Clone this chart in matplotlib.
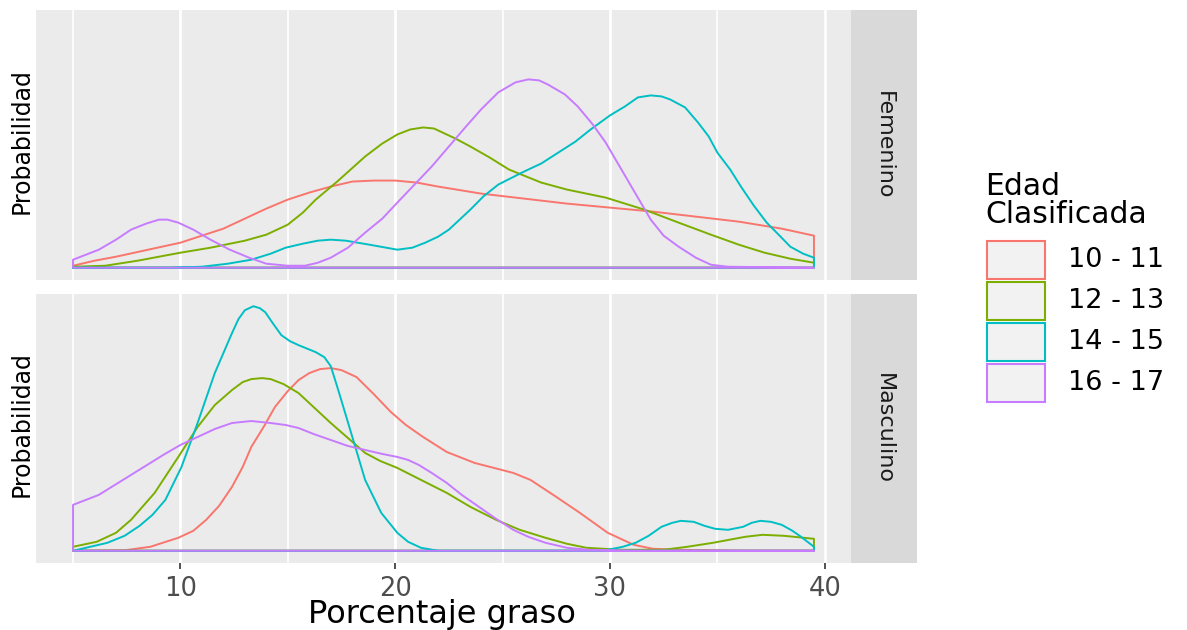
import numpy as np
import matplotlib
matplotlib.use('Agg')
import matplotlib.pyplot as plt
from matplotlib.patches import Polygon, Rectangle

# densidades (x = porcentaje graso, y = densidad)
grupos = ['10 - 11', '12 - 13', '14 - 15', '16 - 17']
colores = ['#F8766D', '#7CAE00', '#00BFC4', '#C77CFF']
paneles = ['Femenino', 'Masculino']

# Femenino
fem_x_1011 = [5.0, 6.0, 7.0, 8.5, 10.0, 11.0, 12.0, 13.0, 14.0, 15.0, 16.0, 17.0, 18.0, 19.0, 20.0, 21.0, 22.0, 24.0, 26.0, 28.0, 30.0, 32.0, 34.0, 36.0, 38.0, 39.5]
fem_y_1011 = [0.002, 0.007, 0.011, 0.018, 0.025, 0.032, 0.039, 0.049, 0.059, 0.068, 0.075, 0.081, 0.086, 0.087, 0.087, 0.085, 0.081, 0.074, 0.069, 0.064, 0.060, 0.056, 0.051, 0.046, 0.039, 0.032]

fem_x_1213 = [5.0, 6.5, 8.0, 10.0, 11.4, 13.0, 14.0, 15.0, 15.7, 16.3, 17.3, 18.6, 19.4, 20.1, 20.7, 21.3, 21.8, 22.1, 22.8, 23.5, 24.4, 25.3, 26.8, 28.0, 29.8, 31.6, 33.2, 34.7, 36.0, 37.2, 38.4, 39.5]
fem_y_1213 = [0.001, 0.002, 0.007, 0.015, 0.020, 0.027, 0.033, 0.043, 0.055, 0.068, 0.086, 0.111, 0.124, 0.133, 0.138, 0.140, 0.139, 0.136, 0.129, 0.121, 0.110, 0.098, 0.085, 0.078, 0.070, 0.058, 0.045, 0.033, 0.023, 0.015, 0.009, 0.005]

fem_x_1415 = [5.0, 8.0, 9.5, 11.0, 12.2, 13.3, 14.2, 14.9, 15.7, 16.4, 17.0, 17.7, 18.8, 20.1, 20.8, 21.4, 22.0, 22.5, 23.5, 24.1, 24.8, 26.0, 26.8, 27.6, 28.4, 29.1, 30.0, 30.7, 31.3, 31.9, 32.4, 32.8, 33.5, 34.1, 34.6, 35.0, 35.6, 36.1, 36.7, 37.3, 37.9, 38.4, 39.0, 39.5]
fem_y_1415 = [0.000, 0.000, 0.000, 0.001, 0.004, 0.008, 0.014, 0.020, 0.024, 0.027, 0.028, 0.027, 0.023, 0.018, 0.020, 0.025, 0.031, 0.038, 0.058, 0.071, 0.083, 0.096, 0.104, 0.115, 0.126, 0.138, 0.152, 0.161, 0.170, 0.172, 0.171, 0.168, 0.160, 0.145, 0.131, 0.115, 0.098, 0.081, 0.062, 0.045, 0.032, 0.021, 0.014, 0.010]

fem_x_1617 = [5.0, 6.2, 7.0, 7.7, 8.4, 9.0, 9.4, 9.9, 10.6, 11.4, 12.3, 13.2, 14.0, 15.0, 15.8, 16.4, 17.0, 17.8, 18.6, 19.4, 20.1, 20.9, 21.7, 22.5, 23.3, 24.0, 24.8, 25.6, 26.2, 26.7, 27.1, 27.9, 28.5, 29.2, 29.8, 30.4, 31.0, 31.9, 32.5, 33.2, 34.0, 34.7, 35.5, 39.5]
fem_y_1617 = [0.008, 0.018, 0.028, 0.038, 0.044, 0.048, 0.048, 0.045, 0.038, 0.028, 0.018, 0.010, 0.004, 0.002, 0.002, 0.005, 0.010, 0.020, 0.035, 0.049, 0.065, 0.083, 0.101, 0.121, 0.141, 0.158, 0.175, 0.185, 0.188, 0.187, 0.183, 0.173, 0.161, 0.143, 0.125, 0.103, 0.081, 0.048, 0.032, 0.021, 0.010, 0.003, 0.001, 0.000]

# Masculino
mas_x_1011 = [5.0, 7.4, 8.6, 9.9, 10.6, 11.2, 11.8, 12.4, 12.9, 13.3, 13.9, 14.4, 15.0, 15.5, 16.0, 16.5, 17.0, 17.5, 18.2, 19.0, 19.8, 20.5, 21.3, 22.4, 23.7, 24.6, 25.5, 26.3, 27.5, 28.6, 29.9, 31.1, 32.0, 33.3, 36.0, 39.5]
mas_y_1011 = [0.000, 0.0005, 0.004, 0.013, 0.020, 0.031, 0.045, 0.064, 0.084, 0.104, 0.125, 0.144, 0.160, 0.171, 0.178, 0.182, 0.183, 0.181, 0.174, 0.157, 0.139, 0.126, 0.114, 0.099, 0.088, 0.083, 0.078, 0.071, 0.054, 0.038, 0.018, 0.006, 0.002, 0.001, 0.000, 0.000]

mas_x_1213 = [5.0, 6.1, 7.0, 7.7, 8.8, 9.9, 10.8, 11.6, 12.4, 12.9, 13.3, 13.8, 14.2, 14.8, 15.5, 16.2, 17.0, 17.8, 18.6, 19.3, 20.1, 21.2, 22.4, 23.5, 24.7, 25.8, 27.0, 28.0, 28.9, 30.5, 32.5, 33.6, 34.8, 36.3, 37.1, 38.1, 39.5]
mas_y_1213 = [0.004, 0.009, 0.018, 0.031, 0.058, 0.094, 0.124, 0.146, 0.161, 0.169, 0.172, 0.173, 0.172, 0.167, 0.158, 0.144, 0.128, 0.113, 0.098, 0.090, 0.083, 0.071, 0.058, 0.044, 0.031, 0.021, 0.013, 0.007, 0.003, 0.001, 0.001, 0.004, 0.008, 0.014, 0.016, 0.015, 0.012]

mas_x_1415 = [5.0, 6.6, 7.4, 8.1, 8.7, 9.3, 10.05, 10.8, 11.6, 12.4, 12.7, 13.0, 13.4, 13.7, 13.95, 14.3, 14.7, 15.1, 15.5, 16.3, 16.7, 17.0, 17.35, 17.95, 18.6, 19.35, 20.1, 20.6, 21.2, 22.0, 29.0, 29.9, 30.6, 31.2, 31.8, 32.4, 32.9, 33.3, 33.9, 34.4, 34.9, 35.5, 36.2, 36.6, 37.0, 37.5, 38.0, 38.5, 38.9, 39.5]
mas_y_1415 = [0.000, 0.008, 0.015, 0.025, 0.036, 0.051, 0.084, 0.128, 0.178, 0.218, 0.232, 0.241, 0.245, 0.243, 0.239, 0.228, 0.216, 0.210, 0.206, 0.199, 0.194, 0.185, 0.161, 0.118, 0.071, 0.038, 0.018, 0.009, 0.003, 0.000, 0.000, 0.001, 0.004, 0.008, 0.015, 0.024, 0.028, 0.030, 0.029, 0.025, 0.022, 0.021, 0.024, 0.028, 0.030, 0.029, 0.026, 0.020, 0.014, 0.004]

mas_x_1617 = [5.0, 6.2, 7.7, 9.2, 10.0, 10.8, 11.6, 12.4, 13.3, 14.2, 14.9, 15.5, 16.2, 17.0, 17.8, 18.6, 19.4, 20.1, 20.6, 21.1, 21.7, 22.4, 23.1, 23.9, 24.7, 25.5, 26.2, 27.0, 28.0, 29.0, 31.0, 39.5]
mas_y_1617 = [0.046, 0.056, 0.076, 0.096, 0.106, 0.114, 0.122, 0.128, 0.130, 0.128, 0.126, 0.123, 0.117, 0.111, 0.105, 0.101, 0.097, 0.094, 0.091, 0.086, 0.078, 0.068, 0.056, 0.044, 0.032, 0.021, 0.014, 0.008, 0.003, 0.001, 0.000, 0.000]

curvas = {
	'Femenino': [(fem_x_1011, fem_y_1011), (fem_x_1213, fem_y_1213), (fem_x_1415, fem_y_1415), (fem_x_1617, fem_y_1617)],
	'Masculino': [(mas_x_1011, mas_y_1011), (mas_x_1213, mas_y_1213), (mas_x_1415, mas_y_1415), (mas_x_1617, mas_y_1617)],
}

W, H = 1187, 630
fig = plt.figure(figsize=(W / 100, H / 100), dpi=100)
plt.rcParams['font.family'] = ['DejaVu Sans']

def fx(px): return px / W
def fy(py): return 1 - py / H

# panel pixel boxes: (left, top, right, bottom)
cajas = [(36, 10, 851, 280), (36, 294, 851, 563)]
strip_w = 66

ymax = max(max(y) for v in curvas.values() for _, y in v)
xmin, xmax = 5.0, 39.5
pad = 0.05 * (xmax - xmin)

for k, panel in enumerate(paneles):
	l, t, r, b = cajas[k]
	ax = fig.add_axes([fx(l), fy(b), fx(r - l), (b - t) / H])
	ax.set_facecolor('#EBEBEB')
	for s in ax.spines.values():
		s.set_visible(False)
	ax.set_xlim(xmin - pad, xmax + pad)
	ax.set_ylim(-0.05 * ymax, 1.05 * ymax)
	ax.set_xticks([10, 20, 30, 40])
	ax.set_xticks([5, 15, 25, 35], minor=True)
	ax.set_yticks([])
	ax.grid(True, which='major', axis='x', color='white', lw=2.0)
	ax.grid(True, which='minor', axis='x', color='white', lw=1.2)
	ax.set_axisbelow(True)
	ax.tick_params(axis='x', which='minor', length=0)
	if k == 0:
		ax.tick_params(axis='x', which='major', length=0, labelbottom=False)
	else:
		ax.tick_params(axis='x', which='major', length=4, width=1.2, color='#333333',
			labelsize=18.5, labelcolor='#4D4D4D', pad=5)

	for (xs, ys), c in zip(curvas[panel], colores):
		pts = list(zip(xs, ys)) + [(xs[-1], 0), (xs[0], 0)]
		ax.add_patch(Polygon(pts, closed=True, fill=False, edgecolor=c, lw=1.4, joinstyle='round'))

	# strip
	sax = fig.add_axes([fx(r), fy(b), fx(strip_w), (b - t) / H])
	sax.set_facecolor('#D9D9D9')
	sax.set_xticks([]); sax.set_yticks([])
	for s in sax.spines.values():
		s.set_visible(False)
	sax.text(0.5, 0.5, panel, rotation=-90, ha='center', va='center', fontsize=16,
		color='#1A1A1A', transform=sax.transAxes)

	# etiqueta y
	fig.text(fx(22), fy((t + b) / 2 - 4), 'Probabilidad', rotation=90, ha='center', va='center',
		fontsize=17, color='black')

fig.text(fx(442), fy(623), 'Porcentaje graso', ha='center', va='baseline', fontsize=23, color='black')

# leyenda
fig.text(fx(985), fy(195), 'Edad', ha='left', va='baseline', fontsize=21.5, color='black')
fig.text(fx(985), fy(223), 'Clasificada', ha='left', va='baseline', fontsize=21.5, color='black')
for i, (g, c) in enumerate(zip(grupos, colores)):
	top = 241 + i * 41
	fig.add_artist(Rectangle((fx(987), fy(top + 38)), fx(58), 38 / H, facecolor='#F2F2F2',
		edgecolor=c, lw=1.5, transform=fig.transFigure))
	fig.text(fx(1068), fy(top + 19), g, ha='left', va='center', fontsize=19.5, color='black')

fig.savefig('out.png', dpi=100)
